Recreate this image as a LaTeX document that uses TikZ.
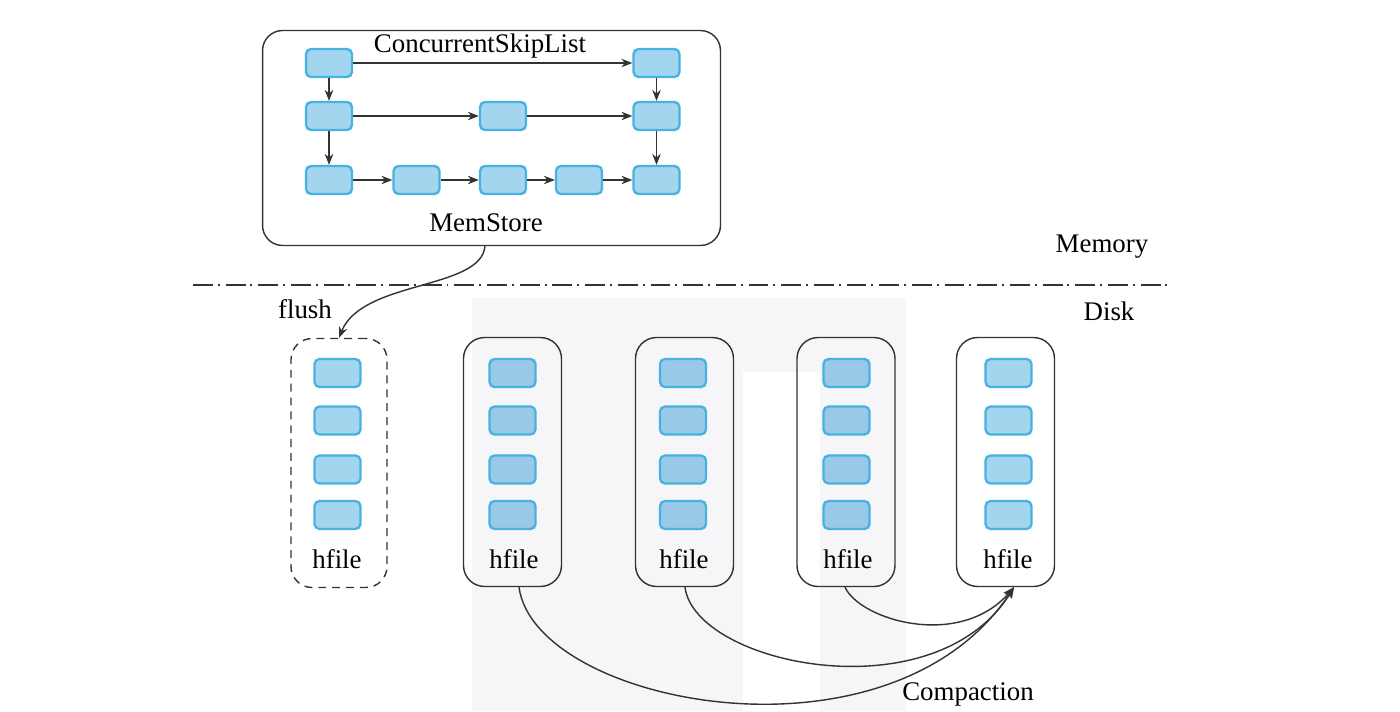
\documentclass[tikz,border=0pt]{standalone}
\usepackage{fontspec}
\setmainfont{Liberation Serif}
\usetikzlibrary{arrows.meta,calc}
\definecolor{blkfill}{HTML}{A3D5EF}
\definecolor{blkfilld}{HTML}{99C9E7}
\definecolor{blkline}{HTML}{45B2E0}
\definecolor{lineg}{HTML}{333333}
\definecolor{wm}{HTML}{F6F6F8}
\begin{document}
\begin{tikzpicture}[x=0.02cm,y=-0.02cm,
 blk/.style={draw=blkline, fill=blkfill, line width=1.3pt, rounded corners=0.1cm, minimum width=0.92cm, minimum height=0.56cm, inner sep=0pt},
 blkd/.style={blk, fill=blkfilld},
 hbox/.style={draw=lineg, line width=0.8pt, rounded corners=0.42cm, minimum width=1.96cm, minimum height=4.98cm, inner sep=0pt},
 hdash/.style={hbox, minimum width=1.92cm, dash pattern=on 4.5pt off 3.4pt},
 lbl/.style={font=\fontsize{15.3}{18}\selectfont, anchor=base, inner sep=0pt},
 arr/.style={draw=lineg, line width=0.8pt, -{Stealth[length=0.22cm,width=0.17cm]}},
 sep/.style={draw=lineg, line width=0.85pt, dash pattern=on 11.3pt off 2.8pt on 1.1pt off 3.4pt},
 ]
\useasboundingbox (0,0) rectangle (1400,711);
% faint background marks
\fill[wm] (472,298) rectangle (906,372);
\fill[wm] (472,372) rectangle (743,711);
\fill[wm] (820,372) rectangle (906,711);

% MemStore box
\node[draw=lineg, line width=0.8pt, rounded corners=0.4cm, minimum width=9.16cm, minimum height=4.3cm, inner sep=0pt] (mem) at (491.5,138) {};
\node[lbl] (csl) at (480,52) {ConcurrentSkipList};
\node[lbl] (mslbl) at (486,231) {MemStore};

% skip list nodes
\node[blk] (n11) at (329,63) {};
\node[blk] (n15) at (656.5,63) {};
\node[blk] (n21) at (329,116) {};
\node[blk] (n23) at (503,116) {};
\node[blk] (n25) at (656.5,116) {};
\node[blk] (n31) at (329,180) {};
\node[blk] (n32) at (416.5,180) {};
\node[blk] (n33) at (503,180) {};
\node[blk] (n34) at (579,180) {};
\node[blk] (n35) at (656.5,180) {};
\draw[arr] (n11) -- (n15);
\draw[arr] (n11) -- (n21);
\draw[arr] (n15) -- (n25);
\draw[arr] (n21) -- (n23);
\draw[arr] (n23) -- (n25);
\draw[arr] (n21) -- (n31);
\draw[arr] (n25) -- (n35);
\draw[arr] (n31) -- (n32);
\draw[arr] (n32) -- (n33);
\draw[arr] (n33) -- (n34);
\draw[arr] (n34) -- (n35);

% separator
\coordinate (sepl) at (193,285);
\coordinate (sepr) at (1168,285);
\draw[sep] (sepl) -- (sepr);
\node[lbl] (memory) at (1102,252) {Memory};
\node[lbl] (disk) at (1109,320) {Disk};
\node[lbl] (flush) at (305,318) {flush};

% hfile boxes
\node[hdash] (b1) at (339,463) {};
\node[hbox] (b2) at (512.5,462) {};
\node[hbox] (b3) at (684.5,462) {};
\node[hbox] (b4) at (846,462) {};
\node[hbox] (b5) at (1005.5,462) {};

\foreach \bx/\st [count=\i] in {337.5/blk, 512.5/blkd, 683/blkd, 846.5/blkd, 1008.5/blk}{
  \node[\st] (k\i a) at (\bx,373) {};
  \node[\st] (k\i b) at (\bx,420.5) {};
  \node[\st] (k\i c) at (\bx,469.5) {};
  \node[\st] (k\i d) at (\bx,515) {};
}
\node[lbl] (h1) at (337,568) {hfile};
\node[lbl] (h2) at (514,568) {hfile};
\node[lbl] (h3) at (684,568) {hfile};
\node[lbl] (h4) at (848,568) {hfile};
\node[lbl] (h5) at (1008,568) {hfile};

% flush arrow
\draw[arr] ([xshift=-0.13cm]mem.south) .. controls (481,290) and (362,280) .. (b1.north);

% compaction arrows
\coordinate (tip) at ([xshift=0.17cm]b5.south);
\draw[arr] ([xshift=0.13cm]b2.south) .. controls (535,705) and (890,775) .. (tip);
\draw[arr] ([xshift=0.01cm]b3.south) .. controls (695,665) and (935,715) .. (tip);
\draw[arr] ([xshift=-0.02cm]b4.south) .. controls (860,620) and (960,650) .. (tip);
\node[lbl] (comp) at (968,700) {Compaction};
\end{tikzpicture}
\end{document}
